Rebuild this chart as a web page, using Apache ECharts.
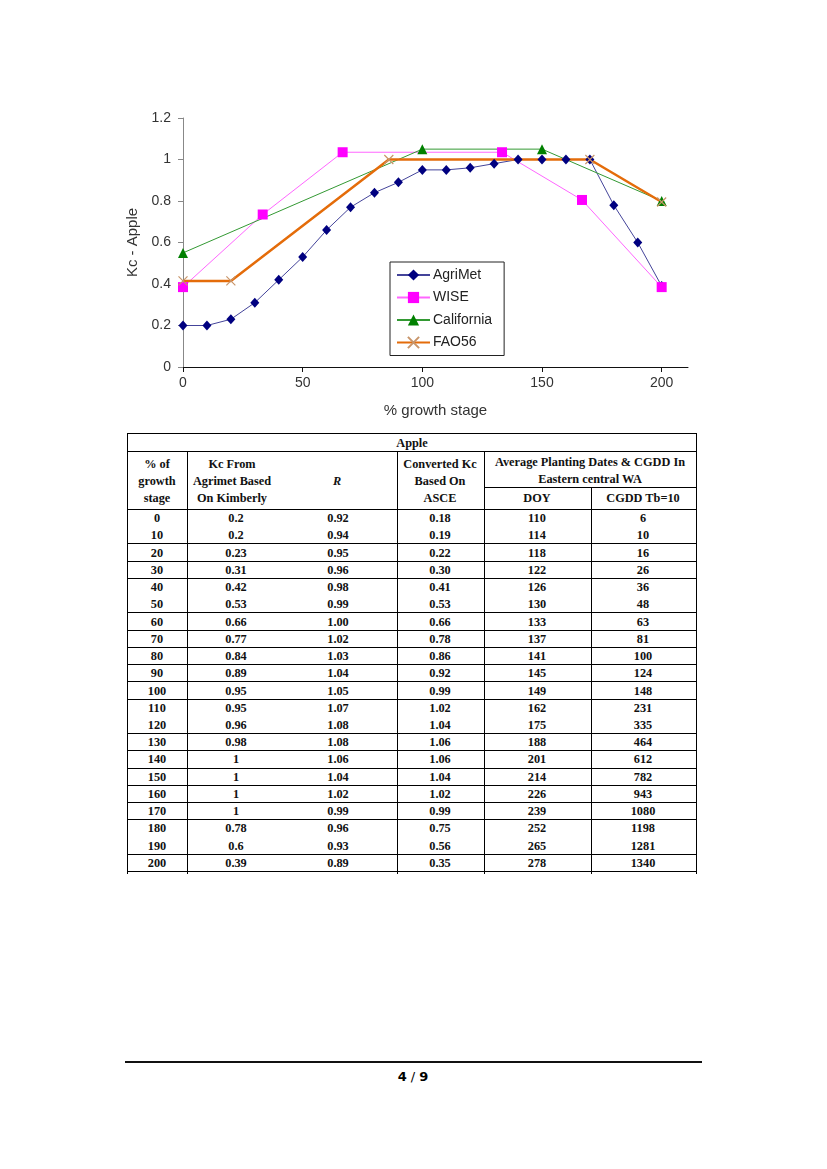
<!DOCTYPE html>
<html>
<head>
<meta charset="utf-8">
<script src="https://cdn.jsdelivr.net/npm/echarts@6/dist/echarts.min.js"></script>
<style>
  html, body { margin: 0; padding: 0; background: #fff; }
  #page { position: relative; width: 827px; height: 1169px; overflow: hidden; background: #fff; }
  #chart { position: absolute; left: 0; top: 0; width: 827px; height: 428px; }
  .ln { position: absolute; background: #000; }
  .tx { position: absolute; font-family: "Liberation Serif", "DejaVu Serif", serif; font-weight: bold; font-size: 12.3px; color: #111; white-space: nowrap; transform: translate(-50%, -50%); line-height: 1; }
  #footline { position: absolute; left: 125px; top: 1061px; width: 577px; height: 2px; background: #111; }
  #pageno { position: absolute; left: 413px; top: 1076px; transform: translate(-50%, -50%); font-family: "DejaVu Sans", sans-serif; font-size: 13px; color: #000; white-space: nowrap; }
</style>
</head>
<body>
<div id="page">
  <div id="chart"></div>
  <div id="table"></div>
  <div id="footline"></div>
  <div id="pageno"><b>4</b> / <b>9</b></div>
</div>
<script>
// ---------------- Chart data ----------------
const stageX = [0, 10, 20, 30, 40, 50, 60, 70, 80, 90, 100, 110, 120, 130, 140, 150, 160, 170, 180, 190, 200];
const agrimetKc = [0.2, 0.2, 0.23, 0.31, 0.42, 0.53, 0.66, 0.77, 0.84, 0.89, 0.95, 0.95, 0.96, 0.98, 1, 1, 1, 1, 0.78, 0.6, 0.39];
const wiseX = [0, 33.3, 66.7, 133.3, 166.7, 200];
const wiseKc = [0.385, 0.735, 1.035, 1.035, 0.805, 0.385];
const californiaX = [0, 100, 150, 200];
const californiaKc = [0.55, 1.05, 1.05, 0.8];
const fao56X = [0, 20, 86, 170, 200];
const fao56Kc = [0.415, 0.415, 1.0, 1.0, 0.795];
const xTicks = [0, 50, 100, 150, 200];
const seriesNames = ['AgriMet', 'WISE', 'California', 'FAO56'];

// ---------------- Table data ----------------
const tableTitle = 'Apple';
const colStage = ['0','10','20','30','40','50','60','70','80','90','100','110','120','130','140','150','160','170','180','190','200'];
const colKcAgrimet = ['0.2','0.2','0.23','0.31','0.42','0.53','0.66','0.77','0.84','0.89','0.95','0.95','0.96','0.98','1','1','1','1','0.78','0.6','0.39'];
const colR = ['0.92','0.94','0.95','0.96','0.98','0.99','1.00','1.02','1.03','1.04','1.05','1.07','1.08','1.08','1.06','1.04','1.02','0.99','0.96','0.93','0.89'];
const colKcAsce = ['0.18','0.19','0.22','0.30','0.41','0.53','0.66','0.78','0.86','0.92','0.99','1.02','1.04','1.06','1.06','1.04','1.02','0.99','0.75','0.56','0.35'];
const colDOY = ['110','114','118','122','126','130','133','137','141','145','149','162','175','188','201','214','226','239','252','265','278'];
const colCGDD = ['6','10','16','26','36','48','63','81','100','124','148','231','335','464','612','782','943','1080','1198','1281','1340'];

const pairs = (xs, ys) => xs.map((x, i) => [x, ys[i]]);
const crossPath = 'path://M0,0L10,10M10,0L0,10';

const chart = echarts.init(document.getElementById('chart'), null, { renderer: 'canvas' });
const axisFont = { fontFamily: 'Liberation Sans, Arial, sans-serif', fontSize: 14, color: '#333' };

chart.setOption({
  animation: false,
  backgroundColor: '#fff',
  grid: { left: 183, top: 118, width: 505, height: 249, containLabel: false },
  legend: {
    orient: 'vertical', left: 390, top: 262,
    data: seriesNames,
    backgroundColor: '#fff', borderColor: '#222', borderWidth: 1,
    padding: [6, 12, 6, 6], itemWidth: 33, itemHeight: 14, itemGap: 8.5,
    textStyle: { fontFamily: 'Liberation Sans, Arial, sans-serif', fontSize: 14, color: '#222', padding: [0, 0, 0, -2] }
  },
  xAxis: {
    type: 'value', min: 0, max: 211,
    name: '% growth stage', nameLocation: 'middle', nameGap: 36,
    nameTextStyle: { fontFamily: 'Liberation Sans, Arial, sans-serif', fontSize: 15, color: '#333' },
    axisLine: { show: true, onZero: false, lineStyle: { color: '#111', width: 1 } },
    axisTick: { show: true, length: 5, customValues: xTicks, lineStyle: { color: '#111' } },
    axisLabel: Object.assign({ customValues: xTicks, margin: 9 }, axisFont),
    splitLine: { show: false }
  },
  yAxis: {
    type: 'value', min: 0, max: 1.2, interval: 0.2,
    name: 'Kc - Apple', nameLocation: 'middle', nameGap: 41, nameRotate: 90,
    nameTextStyle: { fontFamily: 'Liberation Sans, Arial, sans-serif', fontSize: 15, color: '#333' },
    axisLine: { show: true, lineStyle: { color: '#888', width: 1 } },
    axisTick: { show: true, length: 5, lineStyle: { color: '#888' } },
    axisLabel: Object.assign({ margin: 12 }, axisFont),
    splitLine: { show: false }
  },
  series: [
    {
      name: 'AgriMet', type: 'line', data: pairs(stageX, agrimetKc),
      symbol: 'diamond', symbolSize: [9, 10],
      lineStyle: { color: '#44449a', width: 1 },
      itemStyle: { color: '#000080' }
    },
    {
      name: 'WISE', type: 'line', data: pairs(wiseX, wiseKc),
      symbol: 'rect', symbolSize: 10,
      lineStyle: { color: '#ff66ff', width: 1 },
      itemStyle: { color: '#ff00ff' }
    },
    {
      name: 'California', type: 'line', data: pairs(californiaX, californiaKc),
      symbol: 'triangle', symbolSize: 10,
      lineStyle: { color: '#339933', width: 1 },
      itemStyle: { color: '#008000' }
    },
    {
      name: 'FAO56', type: 'line', data: pairs(fao56X, fao56Kc),
      symbol: crossPath, symbolSize: 9,
      lineStyle: { color: '#e46c0a', width: 2.5 },
      itemStyle: { color: 'rgba(0,0,0,0)', borderColor: '#c8956a', borderWidth: 1.2 }
    }
  ]
});

// ---------------- Table rendering ----------------
(function buildTable() {
  const t = document.getElementById('table');
  const L = 127, R = 696, TOP = 433;
  const rowTop = 509, rowH = 17.24, nRows = colStage.length;
  const bottom = rowTop + nRows * rowH;
  const ruleAfterIdx = [1, 2, 3, 5, 6, 7, 8, 9, 10, 12, 13, 14, 15, 16, 17, 19];
  function hline(x1, x2, y, w) {
    const d = document.createElement('div'); d.className = 'ln';
    d.style.left = x1 + 'px'; d.style.top = Math.round(y) + 'px';
    d.style.width = (x2 - x1 + 1) + 'px'; d.style.height = (w || 1) + 'px';
    t.appendChild(d);
  }
  function vline(x, y1, y2) {
    const d = document.createElement('div'); d.className = 'ln';
    d.style.left = x + 'px'; d.style.top = y1 + 'px';
    d.style.width = '1px'; d.style.height = (y2 - y1) + 'px';
    t.appendChild(d);
  }
  function text(s, x, y, italic) {
    const d = document.createElement('div'); d.className = 'tx';
    d.style.left = x + 'px'; d.style.top = y + 'px';
    if (italic) d.style.fontStyle = 'italic';
    d.textContent = s; t.appendChild(d);
  }
  hline(L, R, TOP);
  hline(L, R, 451);
  hline(484, R, 487);
  hline(L, R, rowTop);
  ruleAfterIdx.forEach(i => hline(L, R, rowTop + (i + 1) * rowH));
  hline(L, R, bottom);
  vline(L, TOP, bottom + 3);
  vline(R, TOP, bottom + 3);
  [187, 397, 484].forEach(x => vline(x, 451, bottom + 3));
  vline(591, 487, bottom + 3);

  text(tableTitle, 412, 443);
  ['% of', 'growth', 'stage'].forEach((s, i) => text(s, 157, 464 + i * 17));
  ['Kc From', 'Agrimet Based', 'On Kimberly'].forEach((s, i) => text(s, 232, 464 + i * 17));
  text('R', 337, 481, true);
  ['Converted Kc', 'Based On', 'ASCE'].forEach((s, i) => text(s, 440, 464 + i * 17));
  text('Average  Planting Dates & CGDD In', 590, 462);
  text('Eastern central WA', 590, 479);
  text('DOY', 537, 498);
  text('CGDD  Tb=10', 643, 498);

  const centers = [157, 236, 338, 440, 537, 643];
  const cols = [colStage, colKcAgrimet, colR, colKcAsce, colDOY, colCGDD];
  for (let r = 0; r < nRows; r++) {
    const y = rowTop + r * rowH + rowH / 2 + 0.5;
    cols.forEach((c, k) => text(c[r], centers[k], y));
  }
})();
</script>
</body>
</html>
